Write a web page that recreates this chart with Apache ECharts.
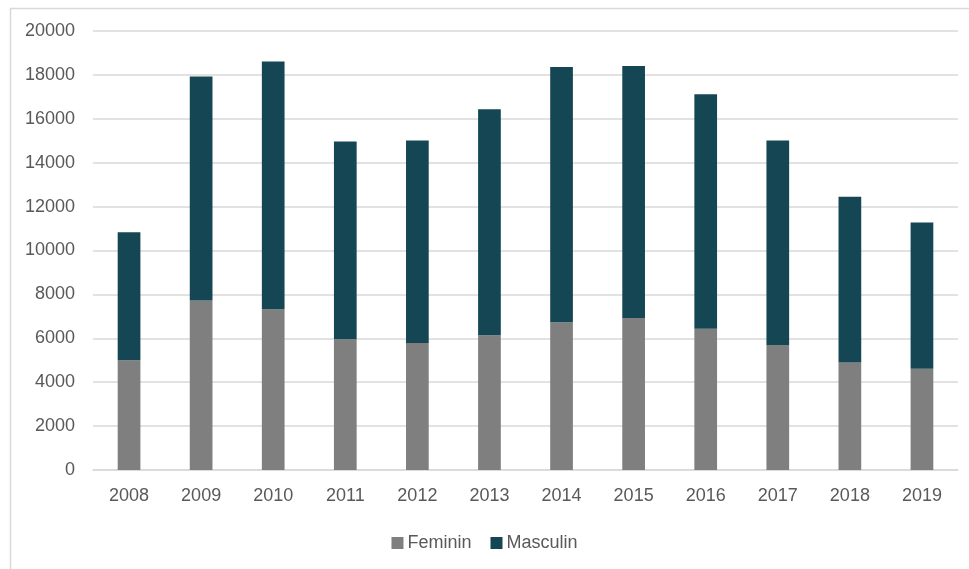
<!DOCTYPE html>
<html>
<head>
<meta charset="utf-8">
<script src="https://cdn.jsdelivr.net/npm/echarts@6/dist/echarts.min.js"></script>
<style>
  html, body { margin: 0; padding: 0; background: #fff; }
  #chart { width: 969px; height: 569px; }
</style>
</head>
<body>
<div id="chart"></div>
<script>
// données
const years = ['2008', '2009', '2010', '2011', '2012', '2013', '2014', '2015', '2016', '2017', '2018', '2019'];
const feminin = [5000, 7720, 7320, 5960, 5790, 6140, 6730, 6930, 6430, 5690, 4900, 4610];
const masculin = [5830, 10210, 11290, 9010, 9220, 10300, 11630, 11480, 10690, 9320, 7550, 6670];

const textColor = '#595959';
const gridColor = '#d9d9d9';

const chart = echarts.init(document.getElementById('chart'));
chart.setOption({
  animation: false,
  textStyle: { fontFamily: 'Liberation Sans, Arial, sans-serif' },
  graphic: [{
    type: 'rect',
    left: 8, top: 6,
    shape: { width: 980, height: 600 },
    style: { fill: 'none', stroke: gridColor, lineWidth: 1.5 },
    silent: true
  }],
  grid: { left: 93, right: 11, top: 31, bottom: 99 },
  legend: {
    bottom: 12,
    left: 'center',
    itemWidth: 12,
    itemHeight: 12,
    itemGap: 19,
    icon: 'rect',
    textStyle: { color: textColor, fontSize: 18, padding: [0, 0, 0, -1] },
    data: ['Feminin', 'Masculin']
  },
  xAxis: {
    type: 'category',
    data: years,
    axisLine: { lineStyle: { color: gridColor, width: 1.5 } },
    axisTick: { show: false },
    axisLabel: { color: textColor, fontSize: 18, margin: 17 }
  },
  yAxis: {
    type: 'value',
    min: 0,
    max: 20000,
    interval: 2000,
    axisLine: { show: false },
    axisTick: { show: false },
    axisLabel: { color: textColor, fontSize: 18, margin: 18, formatter: (v) => String(v) },
    splitLine: { lineStyle: { color: gridColor, width: 1.5 } }
  },
  series: [
    {
      name: 'Feminin',
      type: 'bar',
      stack: 'total',
      barWidth: '31.5%',
      data: feminin,
      itemStyle: { color: '#7f7f7f' }
    },
    {
      name: 'Masculin',
      type: 'bar',
      stack: 'total',
      barWidth: '31.5%',
      data: masculin,
      itemStyle: { color: '#144753' }
    }
  ]
});
</script>
</body>
</html>
